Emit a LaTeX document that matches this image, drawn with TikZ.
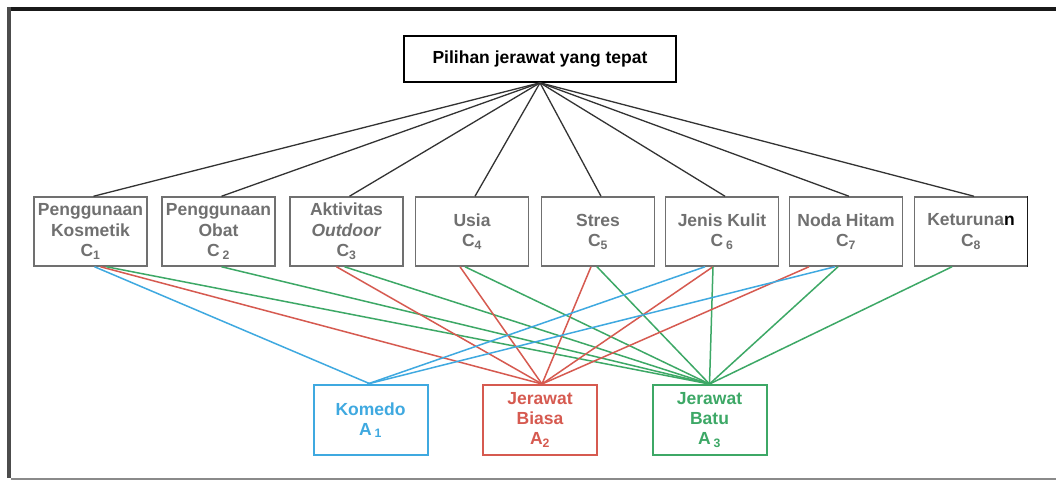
\documentclass[tikz,border=0pt]{standalone}
\usepackage{fontspec}
\setmainfont{Liberation Sans}
\usepackage{xcolor}
\definecolor{critgray}{HTML}{707070}
\definecolor{linkblue}{HTML}{3FA9E0}
\definecolor{linkred}{HTML}{D65A50}
\definecolor{linkgreen}{HTML}{3DA866}
\definecolor{framegray}{HTML}{8A8A8A}
\newcommand{\sbs}[1]{\textsubscript{#1}}
\begin{document}
\begin{tikzpicture}[x=1pt,y=-1pt,
  goalbox/.style={draw=black, line width=1.6pt, minimum width=272pt, minimum height=46pt,
    inner sep=0pt, font=\fontsize{17.5}{20}\selectfont\bfseries, text=black},
  critbox/.style={draw=critgray, line width=1.5pt, minimum width=113pt, minimum height=69pt,
    inner sep=0pt, align=center, font=\fontsize{17.5}{20.5}\selectfont\bfseries, text=critgray},
  altbox/.style={line width=2pt, minimum width=114pt, minimum height=70pt,
    inner sep=0pt, align=center, font=\fontsize{17.5}{20}\selectfont\bfseries},
  toplink/.style={draw=black!80, line width=1.3pt},
  blink/.style={draw=linkblue, line width=1.5pt},
  rlink/.style={draw=linkred, line width=1.5pt},
  glink/.style={draw=linkgreen, line width=1.5pt}]
\useasboundingbox (0,0) rectangle (1056,480);
\fill[white] (0,0) rectangle (1056,480);

% page frame
\fill[black!90] (7,7) rectangle (1056,10.5);
\fill[black!70] (7,7) rectangle (10.5,478);
\fill[framegray] (10.5,478) rectangle (1056,480);

% goal
\node[goalbox] (goal) at (540,59) {Pilihan jerawat yang tepat};

% criteria
\node[critbox] (c1) at (90.5,231.5) {Penggunaan\\Kosmetik\\C\sbs{1}};
\node[critbox] (c2) at (218.5,231.5) {Penggunaan\\Obat\\C\,\sbs{2}};
\node[critbox] (c3) at (346.5,231.5) {Aktivitas\\\textit{Outdoor}\\C\sbs{3}};
\node[critbox] (c4) at (472,231.5) {Usia\\C\sbs{4}};
\node[critbox] (c5) at (598,231.5) {Stres\\C\sbs{5}};
\node[critbox] (c6) at (722,231.5) {Jenis Kulit\\C\,\sbs{6}};
\node[critbox] (c7) at (846,231.5) {Noda Hitam\\C\sbs{7}};
\node[critbox] (c8) at (971,231.5) {Keturuna{\color{black}n}\\C\sbs{8}};
\draw[black!90, line width=1.5pt] ([xshift=-0.75pt]c8.north east) -- ([xshift=-0.75pt]c8.south east);

% alternatives
\node[altbox, draw=linkblue, text=linkblue] (a1) at (370.5,420) {Komedo\\A\,\sbs{1}};
\node[altbox, draw=linkred, text=linkred] (a2) at (540,420) {Jerawat\\Biasa\\A\sbs{2}};
\node[altbox, draw=linkgreen, text=linkgreen] (a3) at (709.5,420) {Jerawat\\Batu\\A\,\sbs{3}};

% goal to criteria
\foreach \c in {c1,c2,c3,c4,c5,c6,c7,c8}
  \draw[toplink] (goal.south) -- ([xshift=3pt]\c.north);

% criteria to alternatives
\draw[blink] ([xshift=4pt]c1.south) -- (a1.north);
\draw[rlink] ([xshift=10pt]c1.south) -- ([xshift=2pt]a2.north);
\draw[glink] ([xshift=16pt]c1.south) -- (a3.north);
\draw[glink] ([xshift=3pt]c2.south) -- (a3.north);
\draw[rlink] ([xshift=-10pt]c3.south) -- ([xshift=2pt]a2.north);
\draw[glink] ([xshift=-2pt]c3.south) -- (a3.north);
\draw[rlink] ([xshift=-12pt]c4.south) -- ([xshift=2pt]a2.north);
\draw[glink] ([xshift=-7pt]c4.south) -- (a3.north);
\draw[rlink] ([xshift=-7pt]c5.south) -- ([xshift=2pt]a2.north);
\draw[glink] ([xshift=-1pt]c5.south) -- (a3.north);
\draw[blink] ([xshift=-17pt]c6.south) -- ([xshift=-3pt]a1.north);
\draw[rlink] ([xshift=-9pt]c6.south) -- ([xshift=2pt]a2.north);
\draw[glink] ([xshift=-9pt]c6.south) -- (a3.north);
\draw[rlink] ([xshift=-37pt]c7.south) -- ([xshift=2pt]a2.north);
\draw[blink] ([xshift=-11pt]c7.south) -- ([xshift=-3pt]a1.north);
\draw[glink] ([xshift=-8pt]c7.south) -- (a3.north);
\draw[glink] ([xshift=-19pt]c8.south) -- (a3.north);
\end{tikzpicture}
\end{document}
